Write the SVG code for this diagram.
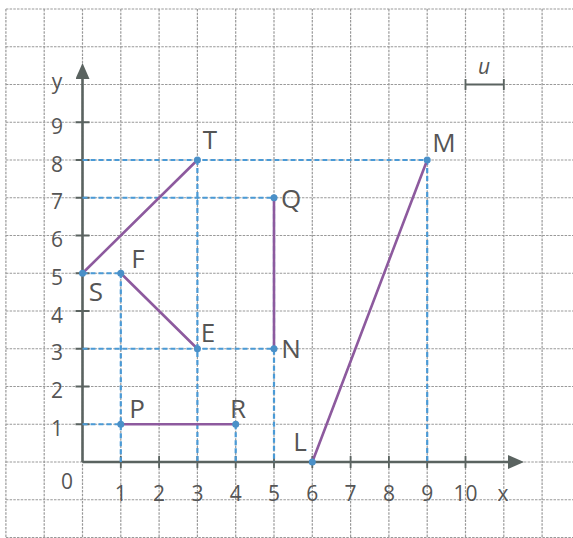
<svg xmlns="http://www.w3.org/2000/svg" width="573" height="538" viewBox="0 0 573 538">
<defs>
<style>
.grid{stroke:#999;stroke-width:1.2;stroke-dasharray:2.5 1.2;fill:none}
.axis{stroke:#5a6360;stroke-width:2.6;fill:none}
.tick{stroke:#5a6360;stroke-width:1.8}
.guide{stroke:#4a9ad6;stroke-width:2.2;stroke-dasharray:5 3;fill:none}
.seg{stroke:#8d5a9e;stroke-width:2.6;fill:none;stroke-linecap:round}
.pt{fill:#4a90c8}
.num{font-family:"Open Sans","Noto Sans",sans-serif;font-size:21px;fill:#555;text-anchor:middle}
.lbl{font-family:"Open Sans","Noto Sans",sans-serif;font-size:26px;fill:#555;text-anchor:middle}
</style>
<marker id="arr" viewBox="0 0 16 14" refX="1" refY="7" markerWidth="16" markerHeight="14" markerUnits="userSpaceOnUse" orient="auto">
<path d="M0,0 L16,7 L0,14 Z" fill="#5a6360"/>
</marker>
</defs>
<rect width="573" height="538" fill="#fff"/>
<g id="grid">
<path class="grid" d="M5.9,9V538M44.2,9V538M82.5,9V538M120.8,9V538M159.1,9V538M197.4,9V538M235.7,9V538M274,9V538M312.3,9V538M350.6,9V538M388.9,9V538M427.2,9V538M465.5,9V538M503.8,9V538M542.1,9V538"/>
<path class="grid" d="M5.9,9H573M5.9,46.75H573M5.9,84.5H573M5.9,122.25H573M5.9,160H573M5.9,197.75H573M5.9,235.5H573M5.9,273.25H573M5.9,311H573M5.9,348.75H573M5.9,386.5H573M5.9,424.25H573M5.9,462H573M5.9,499.75H573M5.9,537.5H573"/>
</g>
<g id="axes">
<line class="axis" x1="82.5" y1="462" x2="82.5" y2="78" marker-end="url(#arr)"/>
<line class="axis" x1="82.5" y1="462" x2="509" y2="462" marker-end="url(#arr)"/>
<path class="tick" d="M75.5,122.25H89.5M75.5,160H89.5M75.5,197.75H89.5M75.5,235.5H89.5M75.5,273.25H89.5M75.5,311H89.5M75.5,348.75H89.5M75.5,386.5H89.5M75.5,424.25H89.5"/>
<path class="tick" d="M120.8,456V468M159.1,456V468M197.4,456V468M235.7,456V468M274,456V468M312.3,456V468M350.6,456V468M388.9,456V468M427.2,456V468M465.5,456V468"/>
<text class="num" x="57" y="89">y</text>
<text class="num" x="57" y="134">9</text>
<text class="num" x="57" y="171.5">8</text>
<text class="num" x="57" y="209">7</text>
<text class="num" x="57" y="247">6</text>
<text class="num" x="57" y="284.5">5</text>
<text class="num" x="57" y="322.5">4</text>
<text class="num" x="57" y="360">3</text>
<text class="num" x="57" y="398">2</text>
<text class="num" x="57" y="435.5">1</text>
<text class="num" x="67" y="489">0</text>
<text class="num" x="120.8" y="500.5">1</text>
<text class="num" x="159.1" y="500.5">2</text>
<text class="num" x="197.4" y="500.5">3</text>
<text class="num" x="235.7" y="500.5">4</text>
<text class="num" x="274" y="500.5">5</text>
<text class="num" x="312.3" y="500.5">6</text>
<text class="num" x="350.6" y="500.5">7</text>
<text class="num" x="388.9" y="500.5">8</text>
<text class="num" x="427.2" y="500.5">9</text>
<text class="num" x="465.5" y="500.5">10</text>
<text class="num" x="503" y="500.5">x</text>
</g>
<g id="unit">
<path class="tick" d="M465.5,84.5H503.8M465.5,79V90M503.8,79V90" stroke-width="2.4"/>
<text class="num" x="484" y="74" font-style="italic" font-size="23">u</text>
</g>
<g id="connectors">
<path class="guide" d="M82.5,160H427.2M82.5,197.75H274M82.5,273.25H120.8M82.5,348.75H274M82.5,424.25H120.8"/>
<path class="guide" d="M120.8,273.25V462M197.4,160V462M235.7,424.25V462M274,197.75V462M427.2,160V462"/>
<line class="seg" x1="82.5" y1="273.25" x2="197.4" y2="160"/>
<line class="seg" x1="120.8" y1="273.25" x2="197.4" y2="348.75"/>
<line class="seg" x1="274" y1="197.75" x2="274" y2="348.75"/>
<line class="seg" x1="120.8" y1="424.25" x2="235.7" y2="424.25"/>
<line class="seg" x1="312.3" y1="462" x2="427.2" y2="160"/>
</g>
<g id="T"><circle class="pt" cx="197.4" cy="160" r="3.5"/><text class="lbl" x="210" y="149">T</text></g>
<g id="M"><circle class="pt" cx="427.2" cy="160" r="3.5"/><text class="lbl" x="444" y="152">M</text></g>
<g id="Q"><circle class="pt" cx="274" cy="197.75" r="3.5"/><text class="lbl" x="291" y="208">Q</text></g>
<g id="F"><circle class="pt" cx="120.8" cy="273.25" r="3.5"/><text class="lbl" x="138" y="268">F</text></g>
<g id="S"><circle class="pt" cx="82.5" cy="273.25" r="3.5"/><text class="lbl" x="96" y="301">S</text></g>
<g id="E"><circle class="pt" cx="197.4" cy="348.75" r="3.5"/><text class="lbl" x="208" y="342">E</text></g>
<g id="N"><circle class="pt" cx="274" cy="348.75" r="3.5"/><text class="lbl" x="291" y="358">N</text></g>
<g id="P"><circle class="pt" cx="120.8" cy="424.25" r="3.5"/><text class="lbl" x="137" y="418">P</text></g>
<g id="R"><circle class="pt" cx="235.7" cy="424.25" r="3.5"/><text class="lbl" x="238" y="418">R</text></g>
<g id="L"><circle class="pt" cx="312.3" cy="462" r="3.5"/><text class="lbl" x="300" y="451">L</text></g>
</svg>
